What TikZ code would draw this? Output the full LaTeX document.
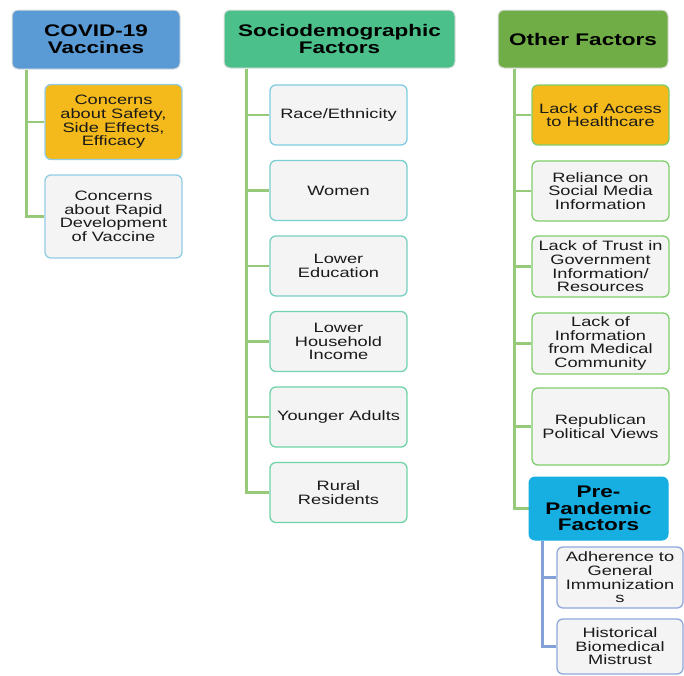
\documentclass[tikz,border=0pt]{standalone}
\usepackage{fontspec}
\newfontfamily\wf[FakeStretch=1.34]{Liberation Sans}
\usetikzlibrary{backgrounds}
\definecolor{covblue}{HTML}{5B9BD5}
\definecolor{socgreen}{HTML}{4CC08A}
\definecolor{othgreen}{HTML}{70AD47}
\definecolor{ppcyan}{HTML}{17AEE2}
\definecolor{orng}{HTML}{F4B91A}
\definecolor{lf}{HTML}{F4F4F4}
\definecolor{bluebd}{HTML}{92CDE6}
\definecolor{tealA}{HTML}{7ECDE0}
\definecolor{tealB}{HTML}{6FD3A8}
\definecolor{greenbd}{HTML}{7FCD6C}
\definecolor{ppbd}{HTML}{8FA8DC}
\definecolor{lg}{HTML}{96C978}
\definecolor{lb}{HTML}{84A0D8}
\definecolor{txt}{HTML}{1A1A1A}
\tikzset{
  hdr/.style={rounded corners=6pt, inner sep=0pt, align=center, text=black,
    draw=gray!25, line width=1pt,
    font=\wf\bfseries\fontsize{16.8}{16.7}\selectfont},
  box/.style={draw, rounded corners=6pt, line width=1.3pt, fill=lf, align=center,
    inner sep=0pt, text=txt, minimum width=137pt,
    font=\wf\fontsize{13.6}{13.6}\selectfont},
  link/.style={draw=lg, line width=2.1pt},
  linkb/.style={draw=lb, line width=2.1pt}
}
\begin{document}
\begin{tikzpicture}[x=1pt,y=-1pt]
\useasboundingbox (0,0) rectangle (684,675);

% ---- left column
\node[hdr, fill=covblue, minimum width=168pt, minimum height=59pt] (cov) at (96,39.5) {COVID-19\\Vaccines};
\node[box, fill=orng, draw=bluebd, minimum height=75pt] (cs) at (113.5,122) {Concerns\\about Safety,\\Side Effects,\\Efficacy};
\node[box, draw=bluebd, minimum height=83pt] (cr) at (113.5,216.5) {Concerns\\about Rapid\\Development\\of Vaccine};

% ---- middle column
\node[hdr, fill=socgreen, minimum width=231pt, minimum height=58pt] (soc) at (339.5,39) {Sociodemographic\\Factors};
\node[box, draw=tealA, minimum height=60pt] (s1) at (338.5,115) {Race/Ethnicity};
\node[box, draw=tealA!70!tealB, minimum height=60pt] (s2) at (338.5,190.5) {Women};
\node[box, draw=tealA!45!tealB, minimum height=60pt] (s3) at (338.5,266) {Lower\\Education};
\node[box, draw=tealA!20!tealB, minimum height=60pt] (s4) at (338.5,341.5) {Lower\\Household\\Income};
\node[box, draw=tealB, minimum height=60pt] (s5) at (338.5,417) {Younger Adults};
\node[box, draw=tealB, minimum height=60pt] (s6) at (338.5,492.5) {Rural\\Residents};

% ---- right column
\node[hdr, fill=othgreen, minimum width=170pt, minimum height=58pt] (oth) at (583,39) {Other Factors};
\node[box, fill=orng, draw=greenbd, minimum height=60pt] (o1) at (600.5,115) {Lack of Access\\to Healthcare};
\node[box, draw=greenbd, minimum height=60pt] (o2) at (600.5,191) {Reliance on\\Social Media\\Information};
\node[box, draw=greenbd, minimum height=61pt] (o3) at (600.5,266.5) {Lack of Trust in\\Government\\Information/\\Resources};
\node[box, draw=greenbd, minimum height=61pt] (o4) at (600.5,343.5) {Lack of\\Information\\from Medical\\Community};
\node[box, draw=greenbd, minimum height=77pt] (o5) at (600.5,426.5) {Republican\\Political Views};
\node[hdr, fill=ppcyan, draw=ppcyan, minimum width=139pt, minimum height=63pt] (pp) at (598.5,508.5) {Pre-\\Pandemic\\Factors};
\node[box, draw=ppbd, minimum width=126pt, minimum height=61pt] (p1) at (620,577.5) {Adherence to\\General\\Immunization\\s};
\node[box, draw=ppbd, minimum width=126pt, minimum height=55pt] (p2) at (620,646.5) {Historical\\Biomedical\\Mistrust};

\begin{scope}[on background layer]
  \coordinate (ct) at ([xshift=15pt]cov.south west);
  \draw[link] (ct) |- (cs.west);
  \draw[link] (ct) |- (cr.west);
  \coordinate (st) at ([xshift=23pt]soc.south west);
  \foreach \n in {s1,s2,s3,s4,s5,s6} \draw[link] (st) |- (\n.west);
  \coordinate (ot) at ([xshift=17pt]oth.south west);
  \foreach \n in {o1,o2,o3,o4,o5,pp} \draw[link] (ot) |- (\n.west);
  \coordinate (pt) at ([xshift=14pt]pp.south west);
  \draw[linkb] (pt) |- (p1.west);
  \draw[linkb] (pt) |- (p2.west);
\end{scope}
\end{tikzpicture}
\end{document}
